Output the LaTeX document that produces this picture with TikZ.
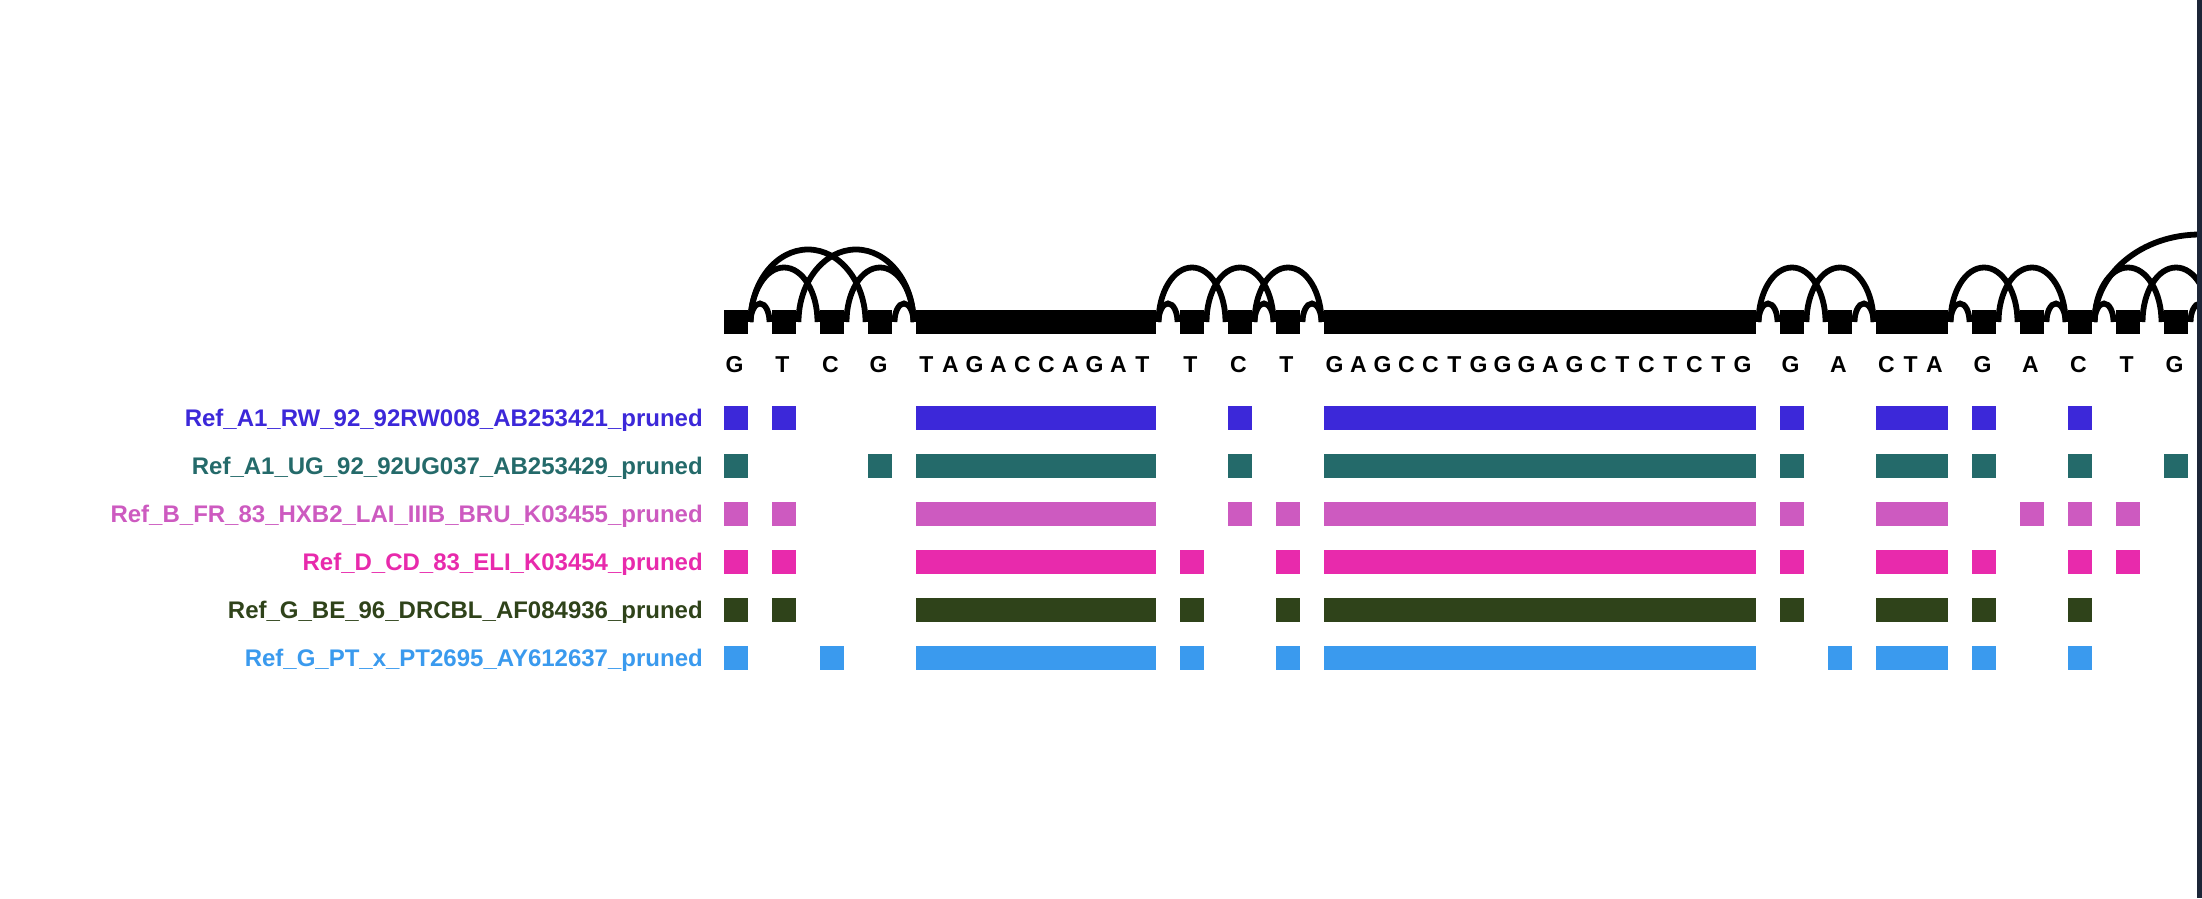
\documentclass[tikz,border=0pt]{standalone}
\usepackage{fontspec}
\setmainfont{Liberation Sans}
\usetikzlibrary{calc}
\definecolor{cA}{HTML}{3C28D9}
\definecolor{cB}{HTML}{246A6A}
\definecolor{cC}{HTML}{CD5AC0}
\definecolor{cD}{HTML}{E82AAC}
\definecolor{cE}{HTML}{2F431A}
\definecolor{cF}{HTML}{3A9AEE}
\definecolor{stripcol}{HTML}{1C2638}
% arc connector from anchor #1 to anchor #2 with height #3
\newcommand{\arcedge}[3]{%
  \draw[arcline] let \p1=([xshift=2.5pt]#1), \p2=([xshift=-2.5pt]#2),
     \n1={(\x2-\x1)/2}, \n2={0.5523*\n1}, \n3={0.5523*#3} in
    (\p1) .. controls ({\x1},{\y1+\n3}) and ({\x1+\n1-\n2},{\y1+#3}) .. ({\x1+\n1},{\y1+#3})
          .. controls ({\x1+\n1+\n2},{\y1+#3}) and ({\x2},{\y1+\n3}) .. (\p2);}
% sequence letters under a graph node
\newcommand{\seqlabel}[3]{%
  \foreach \ltr [count=\k from 0] in {#3} {
    \node[seqletter] (#1-\k) at ({#2+10.5+24*\k},372.6) {\ltr};
  }}
% coloured blocks of one row
\newcommand{\rowblocks}[3]{%
  \foreach \bx/\bw [count=\k] in {#3} {
    \node[cell, fill=#2, minimum width=\bw] (r#1-\k) at ({\bx+\bw/2},{370+48*#1}) {};
  }}
\begin{document}
\begin{tikzpicture}[x=1pt,y=-1pt,
  gnode/.style={rectangle,fill=black,draw=none,inner sep=0pt,outer sep=0pt,minimum height=24},
  cell/.style={rectangle,draw=none,inner sep=0pt,outer sep=0pt,minimum height=24},
  arcline/.style={line width=5.8pt,draw=black},
  seqletter/.style={anchor=base,inner sep=0pt,font=\fontsize{23}{27}\selectfont\bfseries},
  lab/.style={anchor=base east,inner sep=0pt,font=\fontsize{24}{28}\selectfont\bfseries}]
\useasboundingbox (0,0) rectangle (2202,898);
\fill[white] (0,0) rectangle (2202,898);
\begin{scope}
\clip (0,0) rectangle (2197,898);
% graph nodes
\node[gnode,minimum width=24] (n1) at (736,322) {};
\node[gnode,minimum width=24] (n2) at (784,322) {};
\node[gnode,minimum width=24] (n3) at (832,322) {};
\node[gnode,minimum width=24] (n4) at (880,322) {};
\node[gnode,minimum width=240] (n5) at (1036,322) {};
\node[gnode,minimum width=24] (n6) at (1192,322) {};
\node[gnode,minimum width=24] (n7) at (1240,322) {};
\node[gnode,minimum width=24] (n8) at (1288,322) {};
\node[gnode,minimum width=432] (n9) at (1540,322) {};
\node[gnode,minimum width=24] (n10) at (1792,322) {};
\node[gnode,minimum width=24] (n11) at (1840,322) {};
\node[gnode,minimum width=72] (n12) at (1912,322) {};
\node[gnode,minimum width=24] (n13) at (1984,322) {};
\node[gnode,minimum width=24] (n14) at (2032,322) {};
\node[gnode,minimum width=24] (n15) at (2080,322) {};
\node[gnode,minimum width=24] (n16) at (2128,322) {};
\node[gnode,minimum width=24] (n17) at (2176,322) {};
\coordinate (n18) at (2212,322);
\coordinate (n20) at (2308,322);
% edges
\arcedge{n1.east}{n2.west}{18.5}
\arcedge{n1.east}{n3.west}{54.5}
\arcedge{n1.east}{n4.west}{72.5}
\arcedge{n2.east}{n5.west}{72.5}
\arcedge{n3.east}{n5.west}{54.5}
\arcedge{n4.east}{n5.west}{18.5}
\arcedge{n5.east}{n6.west}{18.5}
\arcedge{n5.east}{n7.west}{54.5}
\arcedge{n6.east}{n8.west}{54.5}
\arcedge{n7.east}{n8.west}{18.5}
\arcedge{n7.east}{n9.west}{54.5}
\arcedge{n8.east}{n9.west}{18.5}
\arcedge{n9.east}{n10.west}{18.5}
\arcedge{n9.east}{n11.west}{54.5}
\arcedge{n10.east}{n12.west}{54.5}
\arcedge{n11.east}{n12.west}{18.5}
\arcedge{n12.east}{n13.west}{18.5}
\arcedge{n12.east}{n14.west}{54.5}
\arcedge{n13.east}{n15.west}{54.5}
\arcedge{n14.east}{n15.west}{18.5}
\arcedge{n15.east}{n16.west}{18.5}
\arcedge{n15.east}{n17.west}{54.5}
\arcedge{n15.east}{n20}{87.5}
\arcedge{n16.east}{n18}{54.5}
\arcedge{n17.east}{n18}{18.5}
% sequence letters
\seqlabel{s1}{724}{G}
\seqlabel{s2}{772}{T}
\seqlabel{s3}{820}{C}
\seqlabel{s4}{868}{G}
\seqlabel{s5}{916}{T,A,G,A,C,C,A,G,A,T}
\seqlabel{s6}{1180}{T}
\seqlabel{s7}{1228}{C}
\seqlabel{s8}{1276}{T}
\seqlabel{s9}{1324}{G,A,G,C,C,T,G,G,G,A,G,C,T,C,T,C,T,G}
\seqlabel{s10}{1780}{G}
\seqlabel{s11}{1828}{A}
\seqlabel{s12}{1876}{C,T,A}
\seqlabel{s13}{1972}{G}
\seqlabel{s14}{2020}{A}
\seqlabel{s15}{2068}{C}
\seqlabel{s16}{2116}{T}
\seqlabel{s17}{2164}{G}
% rows
\rowblocks{1}{cA}{724/24,772/24,916/240,1228/24,1324/432,1780/24,1876/72,1972/24,2068/24}
\rowblocks{2}{cB}{724/24,868/24,916/240,1228/24,1324/432,1780/24,1876/72,1972/24,2068/24,2164/24}
\rowblocks{3}{cC}{724/24,772/24,916/240,1228/24,1276/24,1324/432,1780/24,1876/72,2020/24,2068/24,2116/24}
\rowblocks{4}{cD}{724/24,772/24,916/240,1180/24,1276/24,1324/432,1780/24,1876/72,1972/24,2068/24,2116/24}
\rowblocks{5}{cE}{724/24,772/24,916/240,1180/24,1276/24,1324/432,1780/24,1876/72,1972/24,2068/24}
\rowblocks{6}{cF}{724/24,820/24,916/240,1180/24,1276/24,1324/432,1828/24,1876/72,1972/24,2068/24}
% labels
\node[lab,text=cA] (l1) at (703,426.6) {Ref\_A1\_RW\_92\_92RW008\_AB253421\_pruned};
\node[lab,text=cB] (l2) at (703,474.6) {Ref\_A1\_UG\_92\_92UG037\_AB253429\_pruned};
\node[lab,text=cC] (l3) at (703,522.6) {Ref\_B\_FR\_83\_HXB2\_LAI\_IIIB\_BRU\_K03455\_pruned};
\node[lab,text=cD] (l4) at (703,570.6) {Ref\_D\_CD\_83\_ELI\_K03454\_pruned};
\node[lab,text=cE] (l5) at (703,618.6) {Ref\_G\_BE\_96\_DRCBL\_AF084936\_pruned};
\node[lab,text=cF] (l6) at (703,666.6) {Ref\_G\_PT\_x\_PT2695\_AY612637\_pruned};
\end{scope}
\fill[stripcol] (2197,0) rectangle (2202,898);
\end{tikzpicture}
\end{document}
